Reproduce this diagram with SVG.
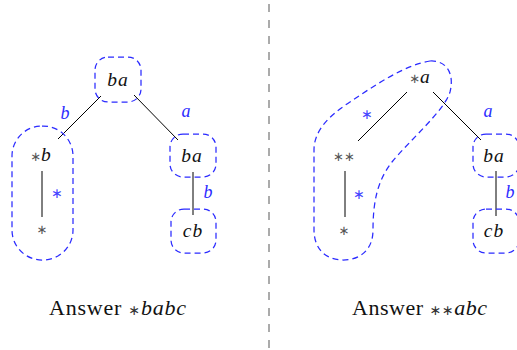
<svg xmlns="http://www.w3.org/2000/svg" width="517" height="350" viewBox="0 0 517 350">
<style>
.bg{fill:#fff}
.box{fill:none;stroke:#2b2bff;stroke-width:1.25;stroke-dasharray:6 4}
.edge{stroke:#000;stroke-width:1;fill:none}
.lbl{font-family:"Liberation Serif",serif;font-style:italic;font-size:19.5px;fill:#111;text-anchor:middle;letter-spacing:1px}
.st{font-family:"DejaVu Sans",sans-serif;font-style:normal;font-size:13px;fill:#555;letter-spacing:0}
.bl{font-family:"Liberation Serif",serif;font-style:italic;font-size:18px;fill:#2b2bff;text-anchor:middle}
.bst{font-family:"DejaVu Sans",sans-serif;font-size:14px;fill:#4444ff;text-anchor:middle}
.cap{font-family:"Liberation Serif",serif;font-size:22px;fill:#111}
.div{stroke:#888;stroke-width:1.4;stroke-dasharray:8 8}
</style>
<rect class="bg" x="0" y="0" width="517" height="350"/>
<line id="divider" class="div" x1="269" y1="4" x2="269" y2="350"/>

<g id="connectors">
  <line class="edge" x1="101" y1="96" x2="58" y2="139"/>
  <line class="edge" x1="134" y1="95" x2="178" y2="140"/>
  <line class="edge" x1="42" y1="171" x2="42" y2="217"/>
  <line class="edge" x1="193" y1="172" x2="193" y2="215"/>
  <line class="edge" x1="407" y1="92" x2="358" y2="141"/>
  <line class="edge" x1="433" y1="92" x2="481" y2="140"/>
  <line class="edge" x1="345" y1="171" x2="345" y2="217"/>
  <line class="edge" x1="496" y1="171" x2="496" y2="216"/>
</g>

<g id="edge-labels">
  <text class="bl" x="65" y="119">b</text>
  <text class="bl" x="186" y="117">a</text>
  <text class="bst" x="57" y="198">∗</text>
  <text class="bl" x="208" y="198">b</text>
  <text class="bst" x="367" y="119">∗</text>
  <text class="bl" x="488" y="117">a</text>
  <text class="bst" x="359" y="199">∗</text>
  <text class="bl" x="510" y="198">b</text>
</g>

<!-- Left tree -->
<g id="L-root">
  <rect class="box" x="95" y="57" width="46" height="45" rx="13"/>
  <text class="lbl" x="118" y="86">ba</text>
</g>
<g id="L-left">
  <rect class="box" x="12" y="126" width="61" height="134" rx="30"/>
  <text class="lbl" x="41" y="161"><tspan class="st">∗</tspan>b</text>
</g>
<g id="L-leaf">
  <text class="lbl" x="42" y="234"><tspan class="st">∗</tspan></text>
</g>
<g id="L-right">
  <rect class="box" x="170" y="134" width="46" height="43" rx="13"/>
  <text class="lbl" x="192" y="162">ba</text>
</g>
<g id="L-cb">
  <rect class="box" x="171" y="209" width="45" height="44" rx="13"/>
  <text class="lbl" x="193" y="237">cb</text>
</g>

<!-- Right tree -->
<g id="R-chain">
  <path class="box" d="M 430 61 C 445 60, 455 72, 450 92 C 445 110, 410 140, 392 162 C 378 180, 373 200, 373 230 C 373 250, 360 260, 343 260 C 325 260, 314 248, 314 230 L 314 150 C 314 130, 330 115, 350 102 C 375 85, 405 65, 430 61 Z"/>
</g>
<g id="R-root">
  <text class="lbl" x="420" y="83"><tspan class="st">∗</tspan>a</text>
</g>
<g id="R-left">
  <text class="lbl" x="344" y="161"><tspan class="st">∗∗</tspan></text>
</g>
<g id="R-leaf">
  <text class="lbl" x="344" y="235"><tspan class="st">∗</tspan></text>
</g>
<g id="R-right">
  <rect class="box" x="473" y="134" width="46" height="43" rx="13"/>
  <text class="lbl" x="494" y="162">ba</text>
</g>
<g id="R-cb">
  <rect class="box" x="473" y="209" width="46" height="44" rx="13"/>
  <text class="lbl" x="494" y="237">cb</text>
</g>

<g id="captions">
  <text class="cap" x="49" y="315" textLength="137" lengthAdjust="spacing">Answer <tspan font-family="DejaVu Sans" font-size="14" fill="#333">∗</tspan><tspan font-style="italic">babc</tspan></text>
  <text class="cap" x="352" y="315" textLength="135" lengthAdjust="spacing">Answer <tspan font-family="DejaVu Sans" font-size="14" fill="#333">∗∗</tspan><tspan font-style="italic">abc</tspan></text>
</g>
</svg>
